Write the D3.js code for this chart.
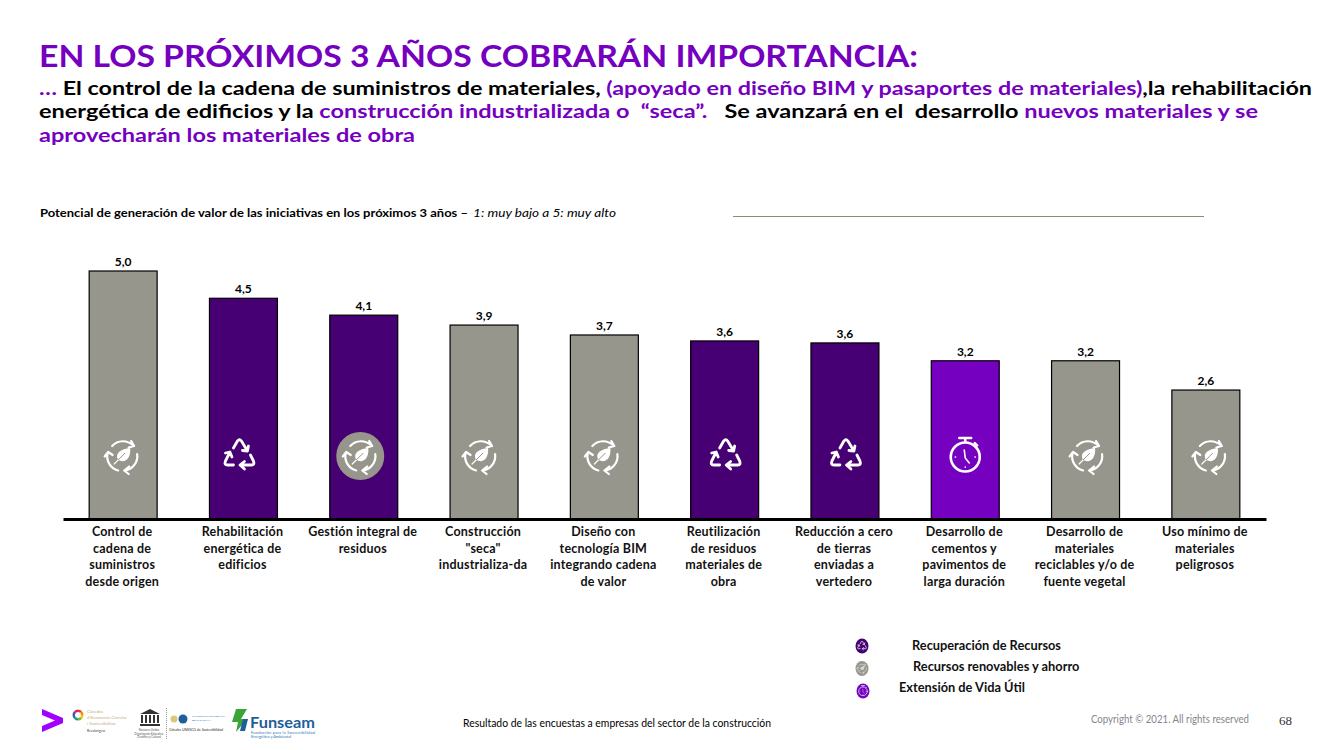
<!DOCTYPE html>
<html>
<head>
<meta charset="utf-8">
<script src="https://cdn.jsdelivr.net/npm/d3@7"></script>
<style>
  html, body { margin: 0; padding: 0; background: #fff; }
  svg { display: block; }
  text { font-family: Lato, "Open Sans", sans-serif; }
</style>
</head>
<body>
<div class="graph"></div>
<script>
'use strict'

const categories = [
  ['Control de', 'cadena de', 'suministros', 'desde origen'],
  ['Rehabilitación', 'energética de', 'edificios'],
  ['Gestión integral de', 'residuos'],
  ['Construcción', '"seca"', 'industrializa-da'],
  ['Diseño con', 'tecnología BIM', 'integrando cadena', 'de valor'],
  ['Reutilización', 'de residuos', 'materiales de', 'obra'],
  ['Reducción a cero', 'de tierras', 'enviadas a', 'vertedero'],
  ['Desarrollo de', 'cementos y', 'pavimentos de', 'larga duración'],
  ['Desarrollo de', 'materiales', 'reciclables y/o de', 'fuente vegetal'],
  ['Uso mínimo de', 'materiales', 'peligrosos']
]
const values = [5.0, 4.45, 4.11, 3.91, 3.71, 3.59, 3.55, 3.19, 3.19, 2.6]
const valueLabels = ['5,0', '4,5', '4,1', '3,9', '3,7', '3,6', '3,6', '3,2', '3,2', '2,6']
const barGroups = ['ren', 'rec', 'rec', 'ren', 'ren', 'rec', 'rec', 'ext', 'ren', 'ren']
const barIcons = ['leaf', 'recycle', 'leaf', 'leaf', 'leaf', 'recycle', 'recycle', 'watch', 'leaf', 'leaf']
const legendItems = ['Recuperación de Recursos', 'Recursos renovables y ahorro', 'Extensión de Vida Útil']

const purple = '#7500C0'
const darkPurple = '#460073'
const grey = '#96968C'
const barColors = { rec: darkPurple, ren: grey, ext: purple }

const width = 1333
const height = 750

// the icons are not quite centred on the bars in the slide
const iconNudge = [-1, -4, -3.5, -4, -2, 1, 1, 0, 1.5, 4]

const svg = d3.select('.graph').append('svg')
  .attr('width', width)
  .attr('height', height)

// icons, drawn around 0,0
function drawIcon (g, name, color) {
  const line = g.append('g')
    .attr('fill', 'none')
    .attr('stroke', color)
    .attr('stroke-width', 2.2)
    .attr('stroke-linecap', 'round')
    .attr('stroke-linejoin', 'round')

  if (name === 'leaf') {
    line.append('path').attr('d', 'M-10,-10 A14.5,14.5 0 0 1 11,-10.5 M9,-15 L12,-10 L6.5,-8.5')
    line.append('path').attr('d', 'M15,-2 A14.5,14.5 0 0 1 3,14.5 M7,10.5 L2,14.5 L6.5,18')
    line.append('path').attr('d', 'M-4,14.5 A14.5,14.5 0 0 1 -14.5,-3 M-17.5,0.5 L-14,-4 L-9.5,-1')
    g.append('path')
      .attr('d', 'M-4,4 C-8,-3 -1,-7 8,-8 C9,1 4,8 -4,4 Z')
      .attr('fill', color)
    line.append('path').attr('d', 'M-8,8 L-4,4').attr('stroke-width', 1.2)
    g.append('path')
      .attr('d', 'M-4,4 L3,-3')
      .attr('fill', 'none')
      .attr('stroke', g.attr('data-bg'))
      .attr('stroke-width', 1)
  } else if (name === 'recycle') {
    line.attr('stroke-width', 2.8)
    g.attr('transform', (g.attr('transform') || '') + ' translate(0,-2)')
    line.append('path').attr('d', 'M-6,-6 L-2,-13 Q0,-15.5 2,-13 L8,-3 M9,-8 L8,-3 L3,-3.5')
    line.append('path').attr('d', 'M11,1 L14,7 Q15.5,11 12,11 L1,11 M5,7.5 L0.5,11 L5,15')
    line.append('path').attr('d', 'M-6,11 L-12,11 Q-15.5,11 -14,7 L-10,-1 M-14,-1 L-9.5,-2 L-7.5,3')
  } else {
    line.attr('stroke-width', 2.6)
    line.append('circle').attr('cx', 0).attr('cy', 1).attr('r', 14.5)
    line.append('path').attr('d', 'M-6,-18 H6 M0,-18 V-14 M9.5,-13 L12,-10.5').attr('stroke-width', 2.4)
    line.append('path').attr('d', 'M-1,-6 L0,2 L4,7').attr('stroke-width', 1.6)
    line.append('path').attr('d', 'M0,11 V11.3 M-10,1 H-9.7 M9.7,1 H10').attr('stroke-width', 1.6)
  }
}

// title block, the line widths are stretched to the ones in the slide
svg.append('text')
  .attr('x', 39)
  .attr('y', 67)
  .attr('textLength', 879)
  .attr('lengthAdjust', 'spacingAndGlyphs')
  .style('font-size', '31px')
  .style('font-weight', 'bold')
  .attr('fill', purple)
  .text('EN LOS PRÓXIMOS 3 AÑOS COBRARÁN IMPORTANCIA:')

const headLines = [
  { y: 95, w: 1273, parts: [['…', purple], [' El control de la cadena de suministros de materiales, ', '#000'], ['(apoyado en diseño BIM y pasaportes de materiales)', purple], [',la rehabilitación', '#000']] },
  { y: 118, w: 1219, parts: [['energética de edificios y la ', '#000'], ['construcción industrializada o  “seca”.', purple], ['   Se avanzará en el  desarrollo ', '#000'], ['nuevos materiales y se', purple]] },
  { y: 142, w: 376, parts: [['aprovecharán los materiales de obra', purple]] }
]

headLines.forEach(function (l) {
  const t = svg.append('text')
    .attr('x', 39)
    .attr('y', l.y)
    .attr('textLength', l.w)
    .attr('lengthAdjust', 'spacingAndGlyphs')
    .style('white-space', 'pre')
    .style('font-size', '19px')
    .style('font-weight', 'bold')
  l.parts.forEach(function (p) {
    t.append('tspan').attr('fill', p[1]).text(p[0])
  })
})

svg.append('text')
  .attr('x', 40)
  .attr('y', 217)
  .attr('textLength', 428)
  .attr('lengthAdjust', 'spacingAndGlyphs')
  .style('font-size', '12px')
  .style('font-weight', 'bold')
  .text('Potencial de generación de valor de las iniciativas en los próximos 3 años –')

svg.append('text')
  .attr('x', 473)
  .attr('y', 217)
  .attr('textLength', 143)
  .attr('lengthAdjust', 'spacingAndGlyphs')
  .style('font-size', '12px')
  .style('font-style', 'italic')
  .text('1: muy bajo a 5: muy alto')

svg.append('line')
  .attr('x1', 733).attr('x2', 1204)
  .attr('y1', 216.5).attr('y2', 216.5)
  .attr('stroke', '#8C8C78')

// chart
const xScale = d3.scaleBand()
  .domain(d3.range(categories.length))
  .range([63, 1266])
  .paddingInner(0.435)
  .paddingOuter(0.2175)

const yScale = d3.scaleLinear()
  .domain([0, 5])
  .range([519, 271])

const bars = svg.append('g')
  .selectAll('g')
  .data(values)
  .join('g')

bars.append('rect')
  .attr('x', (d, i) => xScale(i))
  .attr('y', d => yScale(d))
  .attr('width', xScale.bandwidth())
  .attr('height', d => yScale(0) - yScale(d))
  .attr('fill', (d, i) => barColors[barGroups[i]])
  .attr('stroke', '#000')
  .attr('stroke-width', 1.2)

bars.append('text')
  .attr('x', (d, i) => xScale(i) + xScale.bandwidth() / 2)
  .attr('y', d => yScale(d) - 5)
  .attr('text-anchor', 'middle')
  .style('font-size', '12px')
  .style('font-weight', 'bold')
  .text((d, i) => valueLabels[i])

bars.each(function (d, i) {
  const g = d3.select(this).append('g')
    .attr('transform', `translate(${xScale(i) + xScale.bandwidth() / 2 + iconNudge[i]},456)`)
  // the third bar has its icon on a grey disc in the slide
  if (i === 2) g.append('circle').attr('r', 24).attr('fill', grey)
  g.attr('data-bg', i === 2 ? grey : barColors[barGroups[i]])
  drawIcon(g, barIcons[i], '#fff')
})

const xAxis = svg.append('g')
  .attr('transform', `translate(0,${yScale(0)})`)
  .call(d3.axisBottom(xScale).tickSize(0).tickSizeOuter(0).tickFormat(''))

xAxis.select('.domain')
  .attr('stroke', '#000')
  .attr('stroke-width', 3)

xAxis.selectAll('.tick text').each(function (d) {
  const t = d3.select(this)
    .attr('fill', '#111')
    .attr('y', 0)
    .attr('dy', null)
    .style('font-family', 'Lato, sans-serif')
    .style('font-size', '12.5px')
    .style('letter-spacing', '0.2px')
    .style('font-weight', 'bold')
  categories[d].forEach(function (s, j) {
    t.append('tspan')
      .attr('x', -1)
      .attr('y', 17 + j * 16.6)
      .text(s)
  })
})

// legend
const legendX = [912, 913, 899]
const legendColors = [darkPurple, grey, purple]
const legendIcons = ['recycle', 'leaf', 'watch']
const legendIconX = [862, 862, 863]
const legendY = [646, 667, 688]

legendItems.forEach(function (s, i) {
  const g = svg.append('g')
    .attr('transform', `translate(${legendIconX[i]},${legendY[i] + i * 1.5})`)
  g.append('ellipse').attr('rx', 6.5).attr('ry', 7.5).attr('fill', legendColors[i])
  const ic = g.append('g').attr('transform', 'scale(0.3)').attr('data-bg', legendColors[i])
  drawIcon(ic, legendIcons[i], '#ddd')
  svg.append('text')
    .attr('x', legendX[i])
    .attr('y', legendY[i] + 4)
    .attr('fill', '#111')
    .style('font-size', '12.8px')
    .style('font-weight', 'bold')
    .text(s)
})

// footer
svg.append('text')
  .attr('x', 463).attr('y', 727)
  .attr('textLength', 308)
  .attr('lengthAdjust', 'spacingAndGlyphs')
  .style('font-size', '10.5px')
  .text('Resultado de las encuestas a empresas del sector de la construcción')

svg.append('text')
  .attr('x', 1091).attr('y', 723)
  .attr('textLength', 158)
  .attr('lengthAdjust', 'spacingAndGlyphs')
  .attr('fill', '#85858F')
  .style('font-size', '10.5px')
  .text('Copyright © 2021. All rights reserved')

svg.append('text')
  .attr('x', 1279).attr('y', 725)
  .attr('fill', '#333')
  .style('font-family', '"Liberation Serif", serif')
  .style('font-size', '13px')
  .text('68')

// logos
const logos = svg.append('g')

logos.append('path')
  .attr('d', 'M42,709 L63,718 L63,723 L42,732 L42,726 L55,720.5 L42,715 Z')
  .attr('fill', '#A100FF')

const ringColors = ['#E5352D', '#F39200', '#F7C600', '#7AB929', '#1F9E89', '#2C6DB5', '#7B3F98', '#D6246E']
const ringArc = d3.arc().innerRadius(3).outerRadius(5.5)
d3.pie().value(1)(ringColors).forEach(function (a, i) {
  logos.append('path')
    .attr('transform', 'translate(78,715)')
    .attr('d', ringArc(a))
    .attr('fill', ringColors[i])
})

const smallText = function (x, y, s, size, color, anchor) {
  return logos.append('text')
    .attr('x', x).attr('y', y)
    .attr('fill', color)
    .attr('text-anchor', anchor || 'start')
    .style('font-size', size + 'px')
    .text(s)
}
smallText(87, 713, 'Càtedra', 4.6, '#C4B184')
smallText(87, 719, "d'Economia Circular", 4.6, '#C4B184')
smallText(87, 725, 'i Sostenibilitat', 4.6, '#C4B184')
smallText(87, 732, 'Revalorigest', 3.4, '#444')
smallText(149, 731, 'Naciones Unidas', 2.8, '#555', 'middle')
smallText(149, 734.5, 'Organización Educativa,', 2.8, '#555', 'middle')
smallText(149, 738, 'Científica y Cultural', 2.8, '#555', 'middle')
smallText(169, 731, 'Cátedra UNESCO de Sostenibilidad', 3.6, '#333')
  .attr('textLength', 54)
smallText(192, 717, 'UNIVERSITAT POLITÈCNICA', 2.6, '#3A6EA5')
smallText(192, 721, 'DE CATALUNYA', 2.6, '#3A6EA5')

// unesco temple
logos.append('path')
  .attr('d', 'M140,714 L150,709 L160,714 Z M140,724 H160 V726 H140 Z M141,715 H143 V723 H141 Z M145,715 H147 V723 H145 Z M149,715 H151 V723 H149 Z M153,715 H155 V723 H153 Z M157,715 H159 V723 H157 Z')
  .attr('fill', '#333')

logos.append('line')
  .attr('x1', 166.5).attr('x2', 166.5)
  .attr('y1', 708).attr('y2', 739)
  .attr('stroke', '#999')
  .attr('stroke-dasharray', '1 1')

logos.append('circle').attr('cx', 183).attr('cy', 719).attr('r', 4.5).attr('fill', '#1F5E9C')
logos.append('circle').attr('cx', 174).attr('cy', 719).attr('r', 3.5).attr('fill', '#D9C77A')

logos.append('path')
  .attr('d', 'M236,709 L247,709 L241,719 L247,719 L236,732 L238,722 L232,722 Z')
  .attr('fill', '#3AA535')
logos.append('path')
  .attr('d', 'M243,719 L248,719 L245,731 L240,731 Z')
  .attr('fill', '#1F5E9C')

logos.append('text')
  .attr('x', 250).attr('y', 728)
  .attr('fill', '#1F5E9C')
  .attr('textLength', 65)
  .attr('lengthAdjust', 'spacingAndGlyphs')
  .style('font-size', '15.5px')
  .style('font-weight', 'bold')
  .text('Funseam')
smallText(251, 733.5, 'Fundación para la Sostenibilidad', 4, '#2E75B6')
  .attr('textLength', 64)
smallText(251, 738, 'Energética y Ambiental', 4, '#2E75B6')
</script>
</body>
</html>
